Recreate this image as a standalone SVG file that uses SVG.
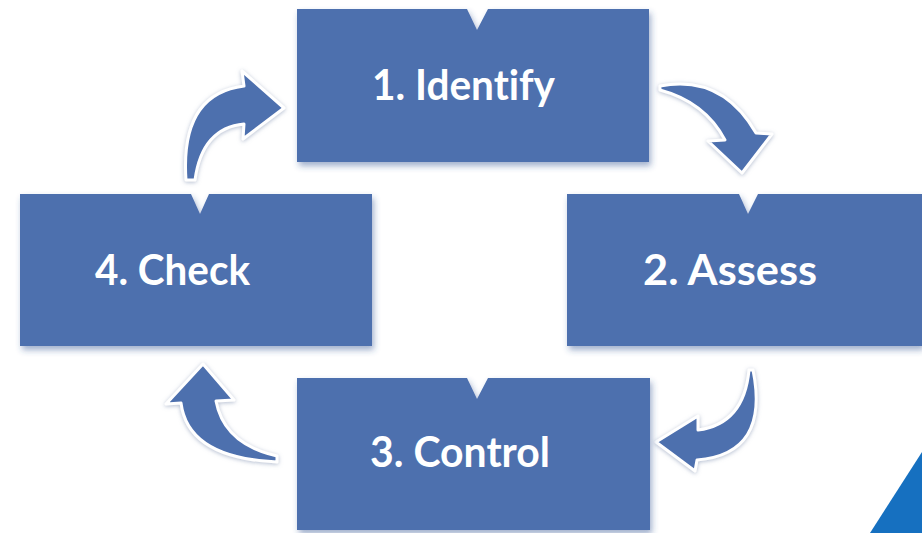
<svg xmlns="http://www.w3.org/2000/svg" width="922" height="533" viewBox="0 0 922 533">
<defs>
<filter id="sh" x="-10%" y="-10%" width="125%" height="130%">
<feDropShadow dx="2" dy="4" stdDeviation="3" flood-color="#2f4f8f" flood-opacity="0.45"/>
</filter>
<filter id="ash" x="-20%" y="-20%" width="140%" height="140%">
<feDropShadow dx="0" dy="1" stdDeviation="2" flood-color="#8090b0" flood-opacity="0.6"/>
</filter>
<style>
.box{fill:#4d6fae;filter:url(#sh)}
.lbl{font-family:Lato,"Open Sans","Liberation Sans",sans-serif;font-weight:bold;font-size:42px;fill:#ffffff;font-variant-ligatures:none}
.arr{fill:#4d6fae;stroke:#ffffff;stroke-width:3;stroke-linejoin:round;filter:url(#ash)}
</style>
</defs>
<rect width="922" height="533" fill="#ffffff"/>
<g id="connectors">
<path class="arr" d="M660,86 Q722,74 756,133 L772,134 L742,173 L708,141 L725,140 Q705,102 660,90 Z"/>
<path class="arr" d="M753,370 Q770,454 697,460 L695,471 L656,442 L698,416 L698,430 Q744,424 749,370 Z"/>
<path class="arr" d="M277,462 Q188,458 181,403 L166,404 L203,364 L234,400 L216,401 Q224,444 277,456 Z"/>
<path class="arr" d="M186,180 Q180,94 244,86 L242,71 L284,108 L243,139 L244,124 Q202,128 195,180 Z"/>
</g>
<g id="node1">
<path class="box" d="M297,9 L467,9 L477,30 L488,9 L649,9 L649,162 L297,162 Z"/>
<text class="lbl" x="372" y="100" textLength="183" lengthAdjust="spacingAndGlyphs">1. Identify</text>
</g>
<g id="node2">
<path class="box" d="M567,194 L739,194 L748,214 L758,194 L922,194 L922,346 L567,346 Z"/>
<text class="lbl" x="643" y="285" textLength="174" lengthAdjust="spacingAndGlyphs">2. Assess</text>
</g>
<g id="node3">
<path class="box" d="M297,378 L467,378 L477,399 L488,378 L650,378 L650,530 L297,530 Z"/>
<text class="lbl" x="370" y="467" textLength="180" lengthAdjust="spacingAndGlyphs">3. Control</text>
</g>
<g id="node4">
<path class="box" d="M20,194 L191,194 L200,214 L209,194 L372,194 L372,346 L20,346 Z"/>
<text class="lbl" x="95" y="285" textLength="155" lengthAdjust="spacingAndGlyphs">4. Check</text>
</g>
<polygon points="870,533 922,452 922,533" fill="#1670c0"/>
</svg>
